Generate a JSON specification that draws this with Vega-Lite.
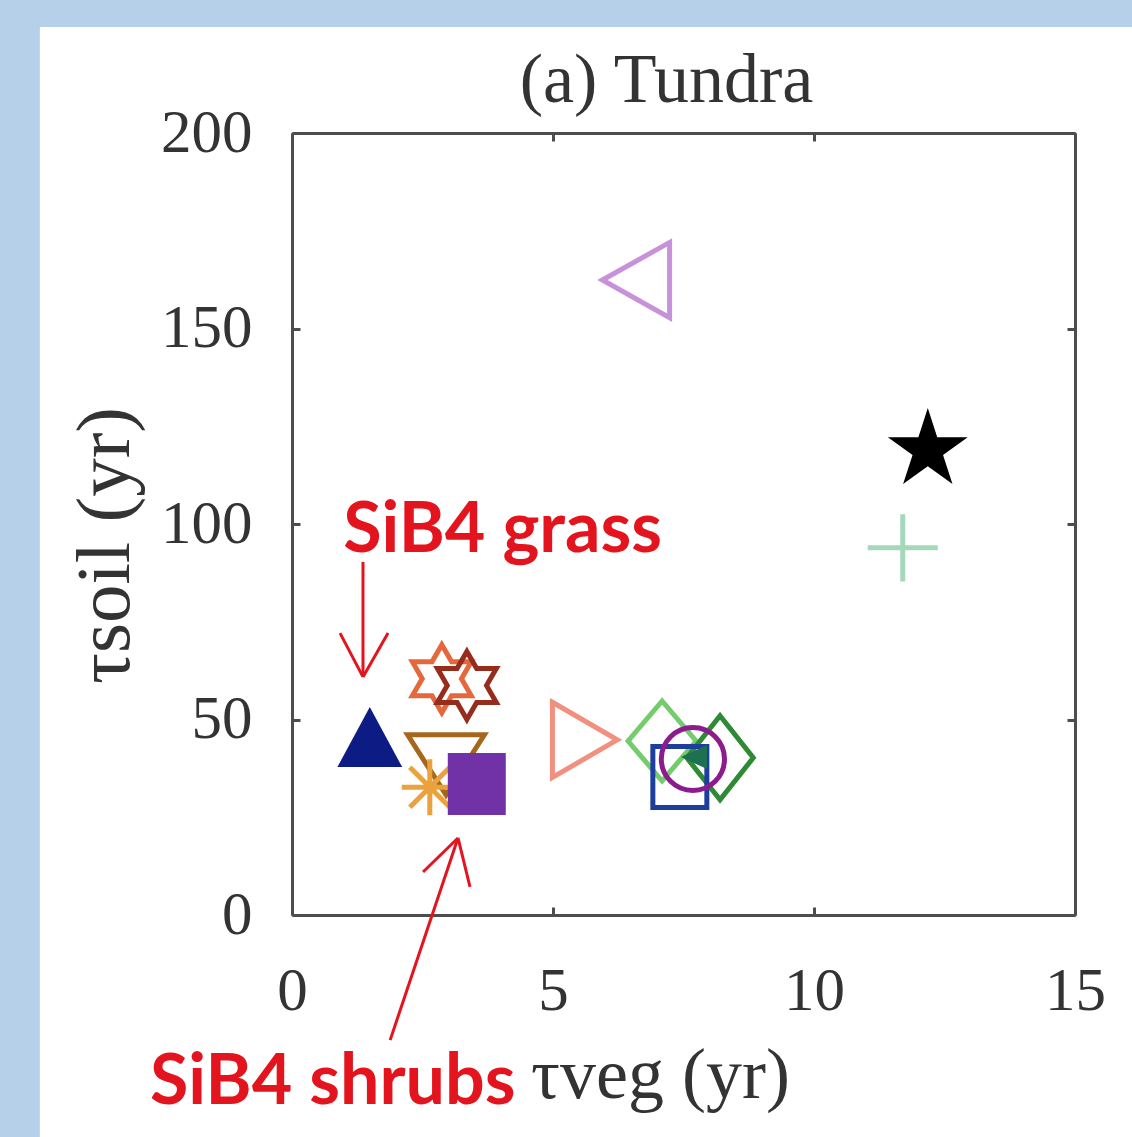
{
  "$schema": "https://vega.github.io/schema/vega-lite/v6.json",
  "width": 783,
  "height": 782,
  "autosize": {"type": "none"},
  "padding": {"left": 292, "top": 133, "right": 57, "bottom": 222},
  "background": "white",
  "title": {"text": "(a) Tundra", "frame": "group", "font": "Liberation Serif", "fontSize": 70, "fontWeight": "normal", "color": "#333333", "offset": -117, "dx": -17},
  "config": {
    "view": {"stroke": null},
    "axis": {
      "domainColor": "#4d4d4d", "domainWidth": 3, "tickColor": "#4d4d4d", "tickWidth": 3, "tickSize": -8,
      "grid": false, "labelFont": "Liberation Serif", "labelFontSize": 61, "labelColor": "#333333",
      "titleFont": "Liberation Serif", "titleFontSize": 72, "titleFontWeight": "normal", "titleColor": "#333333",
      "zindex": 1, "labelFlush": false, "labelOverlap": false, "labelBound": false
    }
  },
  "datasets": {
    "open": [
      {"model": "M3", "x": 2.87, "y": 60.4},
      {"model": "M4", "x": 3.35, "y": 58.7},
      {"model": "M5", "x": 2.95, "y": 38.4},
      {"model": "M6", "x": 2.64, "y": 32.7},
      {"model": "M7", "x": 5.61, "y": 44.8},
      {"model": "M8", "x": 7.09, "y": 44.5},
      {"model": "M9", "x": 8.2, "y": 40.2},
      {"model": "M10", "x": 7.43, "y": 35.3},
      {"model": "M11", "x": 7.68, "y": 39.9},
      {"model": "M12", "x": 6.59, "y": 162.4},
      {"model": "M13", "x": 11.7, "y": 93.9}
    ],
    "filled": [
      {"model": "SiB4 grass", "x": 1.49, "y": 45.5},
      {"model": "SiB4 shrubs", "x": 3.54, "y": 33.5},
      {"model": "M14", "x": 7.72, "y": 40.4},
      {"model": "M15", "x": 12.18, "y": 118.9}
    ],
    "arrows": [
      {"x": 1.36, "y": 90.3, "x2": 1.36, "y2": 60.9},
      {"x": 0.92, "y": 72.1, "x2": 1.36, "y2": 60.9},
      {"x": 1.84, "y": 72.1, "x2": 1.36, "y2": 60.9},
      {"x": 1.88, "y": -32.0, "x2": 3.18, "y2": 19.7},
      {"x": 2.51, "y": 11.0, "x2": 3.18, "y2": 19.7},
      {"x": 3.41, "y": 7.2, "x2": 3.18, "y2": 19.7}
    ],
    "labels": [
      {"label": "SiB4 grass", "x": 0.98, "y": 92.8},
      {"label": "SiB4 shrubs", "x": -2.72, "y": -48.3}
    ]
  },
  "layer": [
    {
      "data": {"values": [{"panel": "left strip"}]},
      "mark": {"type": "rect", "color": "#b7d0e9"},
      "encoding": {
        "x": {"datum": -5.6, "type": "quantitative", "scale": {"domain": [0, 15], "nice": false, "zero": false}, "axis": {"orient": "top", "labels": false, "title": null, "values": [0, 5, 10, 15]}},
        "x2": {"datum": -4.83},
        "y": {"datum": 234.1, "type": "quantitative", "scale": {"domain": [0, 200], "nice": false, "zero": false}, "axis": {"orient": "right", "labels": false, "title": null, "values": [0, 50, 100, 150, 200]}},
        "y2": {"datum": -60}
      }
    },
    {
      "data": {"values": [{"panel": "top strip"}]},
      "mark": {"type": "rect", "color": "#b7d0e9"},
      "encoding": {
        "x": {"datum": -5.6, "type": "quantitative", "axis": null},
        "x2": {"datum": 17},
        "y": {"datum": 234.1, "type": "quantitative", "axis": null},
        "y2": {"datum": 227.1}
      }
    },
    {
      "encoding": {
        "x": {"field": "x", "type": "quantitative", "scale": {"domain": [0, 15], "nice": false, "zero": false},
          "axis": {"orient": "bottom", "values": [0, 5, 10, 15], "title": "τveg (yr)", "labelPadding": 54, "titleX": 368, "titleY": 182, "titleBaseline": "alphabetic", "titleAlign": "center"}},
        "y": {"field": "y", "type": "quantitative", "scale": {"domain": [0, 200], "nice": false, "zero": false},
          "axis": {"orient": "left", "values": [0, 50, 100, 150, 200], "title": "τsoil (yr)", "titleFontSize": 77, "labelPadding": 48, "titleX": -164, "titleY": 412, "titleBaseline": "alphabetic", "titleAlign": "center", "titleAngle": -90}}
      },
      "layer": [
        {
          "data": {"name": "open"},
          "mark": {"type": "point", "filled": false, "size": 6400, "strokeWidth": 5, "opacity": 1},
          "encoding": {
            "shape": {"field": "model", "type": "nominal", "legend": null, "scale": {
              "domain": ["SiB4 grass", "SiB4 shrubs", "M3", "M4", "M5", "M6", "M7", "M8", "M9", "M10", "M11", "M12", "M13", "M14", "M15"],
              "range": [
                "M0,-0.75L0.81,0.75L-0.81,0.75Z",
                "M-0.725,-0.775L0.725,-0.775L0.725,0.775L-0.725,0.775Z",
                "M0,-0.85L0.245,-0.425L0.736,-0.425L0.491,0L0.736,0.425L0.245,0.425L0,0.85L-0.245,0.425L-0.736,0.425L-0.491,0L-0.736,-0.425L-0.245,-0.425Z",
                "M0,-0.85L0.245,-0.425L0.736,-0.425L0.491,0L0.736,0.425L0.245,0.425L0,0.85L-0.245,0.425L-0.736,0.425L-0.491,0L-0.736,-0.425L-0.245,-0.425Z",
                "M-0.96,-0.75L0.96,-0.75L0,0.75Z",
                "M-0.7,0L0.7,0M0,-0.7L0,0.7M-0.5,-0.5L0.5,0.5M-0.5,0.5L0.5,-0.5",
                "M-0.81,-0.94L0.81,0L-0.81,0.94Z",
                "M0,-1L0.85,0L0,1L-0.85,0Z",
                "M0,-1.05L0.83,0L0,1.05L-0.83,0Z",
                "M-0.675,-0.76L0.675,-0.76L0.675,0.76L-0.675,0.76Z",
                "M0.79,0A0.79,0.79,0,1,1,-0.79,0A0.79,0.79,0,1,1,0.79,0Z",
                "M-0.84,0L0.84,-0.94L0.84,0.94Z",
                "M-0.875,0L0.875,0M0,-0.84L0,0.84",
                "M-0.35,0L0.3,-0.3L0.3,0.3Z",
                "M0,-1.05L0.236,-0.324L0.999,-0.324L0.381,0.124L0.617,0.849L0,0.401L-0.617,0.849L-0.381,0.124L-0.999,-0.324L-0.236,-0.324Z"
              ]}},
            "color": {"field": "model", "type": "nominal", "legend": null, "scale": {
              "domain": ["SiB4 grass", "SiB4 shrubs", "M3", "M4", "M5", "M6", "M7", "M8", "M9", "M10", "M11", "M12", "M13", "M14", "M15"],
              "range": ["#0c1c84", "#7132a8", "#e4683c", "#962c1c", "#a5671c", "#eba23a", "#f29080", "#74cc6c", "#2e8a34", "#1e3e9c", "#8c1c8e", "#c792da", "#a5d8bb", "#1d7050", "#000000"]}}
          }
        },
        {
          "data": {"name": "filled"},
          "mark": {"type": "point", "filled": true, "size": 6400, "opacity": 1},
          "encoding": {
            "shape": {"field": "model", "type": "nominal", "legend": null, "scale": {
              "domain": ["SiB4 grass", "SiB4 shrubs", "M3", "M4", "M5", "M6", "M7", "M8", "M9", "M10", "M11", "M12", "M13", "M14", "M15"],
              "range": [
                "M0,-0.75L0.81,0.75L-0.81,0.75Z",
                "M-0.725,-0.775L0.725,-0.775L0.725,0.775L-0.725,0.775Z",
                "M0,-0.85L0.245,-0.425L0.736,-0.425L0.491,0L0.736,0.425L0.245,0.425L0,0.85L-0.245,0.425L-0.736,0.425L-0.491,0L-0.736,-0.425L-0.245,-0.425Z",
                "M0,-0.85L0.245,-0.425L0.736,-0.425L0.491,0L0.736,0.425L0.245,0.425L0,0.85L-0.245,0.425L-0.736,0.425L-0.491,0L-0.736,-0.425L-0.245,-0.425Z",
                "M-0.96,-0.75L0.96,-0.75L0,0.75Z",
                "M-0.7,0L0.7,0M0,-0.7L0,0.7M-0.5,-0.5L0.5,0.5M-0.5,0.5L0.5,-0.5",
                "M-0.81,-0.94L0.81,0L-0.81,0.94Z",
                "M0,-1L0.85,0L0,1L-0.85,0Z",
                "M0,-1.05L0.83,0L0,1.05L-0.83,0Z",
                "M-0.675,-0.76L0.675,-0.76L0.675,0.76L-0.675,0.76Z",
                "M0.79,0A0.79,0.79,0,1,1,-0.79,0A0.79,0.79,0,1,1,0.79,0Z",
                "M-0.84,0L0.84,-0.94L0.84,0.94Z",
                "M-0.875,0L0.875,0M0,-0.84L0,0.84",
                "M-0.35,0L0.3,-0.3L0.3,0.3Z",
                "M0,-1.05L0.236,-0.324L0.999,-0.324L0.381,0.124L0.617,0.849L0,0.401L-0.617,0.849L-0.381,0.124L-0.999,-0.324L-0.236,-0.324Z"
              ]}},
            "color": {"field": "model", "type": "nominal", "legend": null, "scale": {
              "domain": ["SiB4 grass", "SiB4 shrubs", "M3", "M4", "M5", "M6", "M7", "M8", "M9", "M10", "M11", "M12", "M13", "M14", "M15"],
              "range": ["#0c1c84", "#7132a8", "#e4683c", "#962c1c", "#a5671c", "#eba23a", "#f29080", "#74cc6c", "#2e8a34", "#1e3e9c", "#8c1c8e", "#c792da", "#a5d8bb", "#1d7050", "#000000"]}}
          }
        },
        {
          "data": {"name": "arrows"},
          "mark": {"type": "rule", "color": "#e3141e", "strokeWidth": 3},
          "encoding": {
            "x2": {"field": "x2"},
            "y2": {"field": "y2"}
          }
        },
        {
          "data": {"name": "labels"},
          "mark": {"type": "text", "align": "left", "baseline": "alphabetic", "font": "Lato", "fontWeight": "bold", "fontSize": 70, "color": "#e3141e"},
          "encoding": {
            "text": {"field": "label"}
          }
        }
      ]
    }
  ],
  "resolve": {"axis": {"x": "independent", "y": "independent"}}
}
